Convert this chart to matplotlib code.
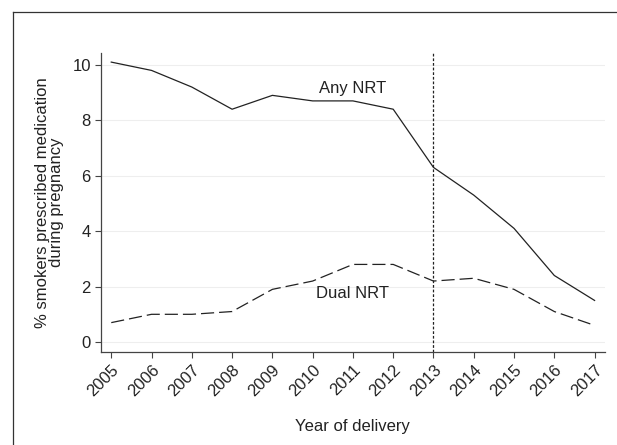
import matplotlib.pyplot as plt
from matplotlib.lines import Line2D

plt.rcParams['font.family'] = ['Liberation Sans', 'DejaVu Sans']

years = list(range(2005, 2018))
any_nrt = [10.1, 9.8, 9.2, 8.4, 8.9, 8.7, 8.7, 8.4, 6.3, 5.3, 4.1, 2.4, 1.5]
dual_nrt = [0.7, 1.0, 1.0, 1.1, 1.9, 2.2, 2.8, 2.8, 2.2, 2.3, 1.9, 1.1, 0.6]
y_ticks = [0, 2, 4, 6, 8, 10]
cutoff_year = 2013

fig = plt.figure(figsize=(6.17, 4.45), dpi=100)
ax = fig.add_axes([0.164, 0.209, 0.816, 0.672])

for y in y_ticks:
    ax.axhline(y, color='#eeeeee', linewidth=0.8, zorder=0)

ax.plot(years, any_nrt, color='#222222', linewidth=0.9)
ax.plot(years, dual_nrt, color='#222222', linewidth=0.9, dashes=(10.5, 4))
ax.axvline(cutoff_year, color='#222222', linewidth=0.9, dashes=(2.2, 1.5))

ax.text(2011, 9.13, 'Any NRT', ha='center', va='center', fontsize=12, color='#222222')
ax.text(2011, 1.74, 'Dual NRT', ha='center', va='center', fontsize=12, color='#222222')

ax.set_xlim(2004.75, 2017.25)
ax.set_ylim(-0.36, 10.43)
ax.set_xticks(years)
ax.set_xticklabels([str(y) for y in years], rotation=45, ha='right',
                   rotation_mode='anchor', fontsize=12)
ax.set_yticks(y_ticks)
ax.tick_params(axis='y', labelsize=12)
ax.tick_params(direction='out', length=4, color='#444444', labelcolor='#222222')

for s in ['top', 'right']:
    ax.spines[s].set_visible(False)
for s in ['left', 'bottom']:
    ax.spines[s].set_color('#444444')
    ax.spines[s].set_linewidth(0.9)

ax.set_ylabel('% smokers prescribed medication\nduring pregnancy', fontsize=12,
              labelpad=6, linespacing=0.88, color='#222222')
ax.set_xlabel('Year of delivery', fontsize=12, labelpad=14, color='#222222')

# outer frame
fig.add_artist(Line2D([13 / 617, 13 / 617], [0, 1 - 12 / 445], transform=fig.transFigure,
                      color='#333333', linewidth=0.9))
fig.add_artist(Line2D([13 / 617, 1], [1 - 12 / 445, 1 - 12 / 445], transform=fig.transFigure,
                      color='#333333', linewidth=0.9))

fig.savefig('out.png', dpi=100)
